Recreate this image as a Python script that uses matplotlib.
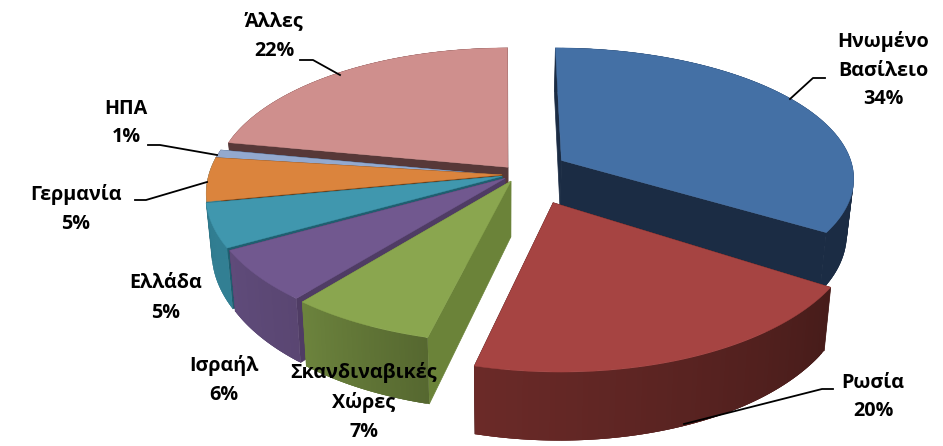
# Exploded 3D pie, drawn by hand since matplotlib has no perspective pie
import numpy as np
import matplotlib.pyplot as plt
import matplotlib.colors as mcolors

plt.rcParams['font.family'] = ['Open Sans', 'DejaVu Sans']

# Data
labels = ['Ηνωμένο\nΒασίλειο', 'Ρωσία', 'Σκανδιναβικές\nΧώρες', 'Ισραήλ', 'Ελλάδα', 'Γερμανία', 'ΗΠΑ', 'Άλλες']
values = [34, 20, 7, 6, 5, 5, 1, 22]

# Slice styling
top_colors = ['#4470A5', '#A64442', '#8AA64F', '#71588F', '#4097AE', '#DB843D', '#93A9CF', '#CF8F8D']
wall_colors = ['#1B2C44', '#471C1A', '#6B8339', '#4F3C64', '#1F5F70', '#6B3D16', '#2C4A70', '#573838']
rim_start = ['#1B2C44', '#471C1A', '#566830', '#5A4672', '#327F93', '#327F93', '#573838', '#573838']
rim_end = ['#1B2C44', '#6B2A28', '#6C833D', '#5F4B7A', '#327F93', '#327F93', '#573838', '#573838']
explode_u = [0.195, 0.16, 0.02, 0.0, -0.01, -0.01, -0.01, 0.01]
explode_v = [-0.07, 0.23, 0.08, 0.06, 0.045, 0.035, 0.04, -0.02]
squash_v = [0.93, 1, 1, 1, 1, 1, 1, 0.98]

# Camera, in pixels of the 943x446 canvas
cx, cy = 505, 170
R, K = 292, 138
persp = 0.13
depth = 55


def project(u, v):
    # disc coordinates to screen, v grows toward the viewer
    s = 1 / (1 - persp * v)
    return cx + R * u * s, cy + K * v * s


def drop(x, y, v):
    # same point on the bottom face of the pie
    return cx + (x - cx) * 0.98, y + depth * (1 + 0.2 * v)


fig = plt.figure(figsize=(9.43, 4.46), dpi=100)
ax = fig.add_axes([0, 0, 1, 1])
ax.set_xlim(0, 943)
ax.set_ylim(446, 0)
ax.axis('off')

# Angles run clockwise from 12 o'clock
edges = np.cumsum([0] + values) / sum(values) * 2 * np.pi

# Painter's order, back slices first
order = [7, 6, 0, 5, 4, 3, 2, 1]
for i in order:
    a = np.linspace(edges[i], edges[i + 1], 80)
    u = np.sin(a) + explode_u[i]
    v = -np.cos(a) * squash_v[i] + explode_v[i]
    x, y = project(u, v)
    x0, y0 = project(np.array(explode_u[i]), np.array(explode_v[i]))
    xb, yb = drop(x, y, v)
    x0b, y0b = drop(x0, y0, np.array(explode_v[i]))

    # Radial walls
    for k in [0, -1]:
        ax.fill([x0, x[k], xb[k], x0b], [y0, y[k], yb[k], y0b], color=wall_colors[i], lw=0.5)

    # Outer rim, overlapping strips for the shading so no seams show
    c1 = np.array(mcolors.to_rgb(rim_start[i]))
    c2 = np.array(mcolors.to_rgb(rim_end[i]))
    for k in range(len(a) - 1):
        c = c1 + (c2 - c1) * k / (len(a) - 2)
        n = min(k + 3, len(a) - 1)
        ax.fill([x[k], x[n], xb[n], xb[k]], [y[k], y[n], yb[n], yb[k]], color=c, lw=0)

    # Top face
    ax.fill(np.r_[x0, x], np.r_[y0, y], color=top_colors[i], lw=0.3)

# Leader lines
ax.plot([790, 813, 825], [99, 78, 78], color='black', lw=1.3)
ax.plot([684, 822, 833], [424, 389, 389], color='black', lw=1.3)
ax.plot([300, 313, 340], [60, 60, 75], color='black', lw=1.3)
ax.plot([148, 160, 217], [145, 145, 155], color='black', lw=1.3)
ax.plot([135, 146, 207], [200, 200, 182], color='black', lw=1.3)

# Data labels
label_x = [883, 873, 364, 224, 166, 76, 126, 274]
label_y = [70, 397, 402, 380, 298, 209, 123, 36]
for i in range(len(labels)):
    ax.text(label_x[i], label_y[i], labels[i] + '\n' + str(values[i]) + '%', ha='center', va='center',
            fontsize=14.2, fontweight='bold', color='black', linespacing=1.6)

fig.savefig('out.png', dpi=100)
